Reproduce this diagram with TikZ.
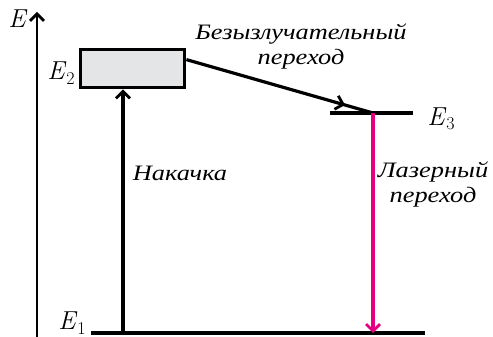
\documentclass[tikz,border=0pt]{standalone}
\usepackage{fontspec}
\setmainfont{Liberation Serif}
\newfontfamily\lmfont{Latin Modern Roman}
\usepackage{tikz}
\usetikzlibrary{arrows, arrows.meta, calc, decorations.markings}
\definecolor{lasercol}{RGB}{228,0,128}
\definecolor{boxgray}{RGB}{228,229,230}
\newcommand{\wider}[1]{\scalebox{1.2}[1]{#1}}
\newcommand{\energy}[1]{\textit{E}\raisebox{-4.5pt}{\fontsize{18}{18}\selectfont #1}}
\tikzstyle{level} = [line width=4.5pt]
\tikzstyle{band} = [rectangle, minimum width=104pt, minimum height=38pt, draw=black, fill=boxgray, line width=3.8pt]
\tikzstyle{label} = [font=\fontsize{22}{25}\selectfont\itshape, align=center, inner sep=0pt]
\tikzstyle{elabel} = [font=\fontsize{26}{28}\selectfont\lmfont, inner sep=0pt]

\begin{document}
\begin{tikzpicture}[x=1pt, y=-1pt, >={Straight Barb[length=7pt, width=14pt, line width=2.8pt]}]
		\useasboundingbox (0,0) rectangle (493,337);
		\coordinate (axisfoot) at (37,337);
		\coordinate (axistop) at (37,12);
		\node (upper) [band] at (132.5,68.5) {};
		\coordinate (e1left) at (91,333);
		\coordinate (e1right) at (425,333);
		\coordinate (e3left) at (330,113);
		\coordinate (e3right) at (413,113);
		\coordinate (laser) at (373,113);
		\coordinate (pump) at (123,333);
		\coordinate (leave) at ($(upper.north east)+(0,12)$);
		
		\draw[->, line width=2.4pt] (axisfoot) -- (axistop);
		\draw[level] (e1left) -- (e1right);
		\draw[level] (e3left) -- (e3right);
		\draw[->, line width=3.2pt] (pump) -- (pump |- upper.south);
		\draw[line width=3.2pt, decoration={markings, mark=at position 0.85 with {\arrow{>}}}, postaction={decorate}] (leave) -- (laser);
		\draw[->, line width=3.2pt, draw=lasercol, color=lasercol] (laser) -- (laser |- e1left);
		
		\node[elabel] (elab) at (18,21) {\energy{}};
		\node[elabel] (e2lab) at (61,73) {\energy{2}};
		\node[elabel] (e1lab) at (72,323) {\energy{1}};
		\node[elabel] (e3lab) at (441,119) {\energy{3}};
		\node[label] (nonrad) at (301,47) {\wider{Безызлучательный}\\\wider{переход}};
		\node[label] (pumplab) at (180,173) {\wider{Накачка}};
		\node[label] (lasing) at (433,185) {\wider{Лазерный}\\\wider{переход}};
	\end{tikzpicture}
\end{document}
